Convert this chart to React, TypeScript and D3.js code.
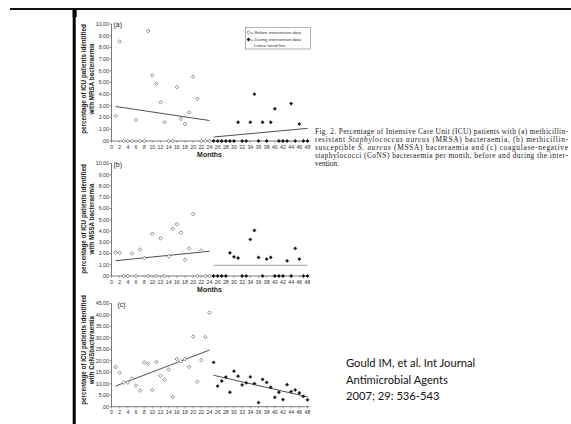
import React from 'react';
import * as d3 from 'd3';

// ---------- data ----------
const monthsBefore = [1, 2, 3, 4, 5, 6, 7, 8, 9, 10, 11, 12, 13, 14, 15, 16, 17, 18, 19, 20, 21, 22, 23, 24];
const monthsDuring = [25, 26, 27, 28, 29, 30, 31, 32, 33, 34, 35, 36, 37, 38, 39, 40, 41, 42, 43, 44, 45, 46, 47, 48];

const mrsaBefore = [2.15, 8.5, 0, 0, 0, 1.8, 0, 0, 9.4, 5.6, 4.9, 3.3, 1.6, 0, 0, 4.6, 1.9, 1.45, 2.45, 5.5, 3.6, 0, 0, 0];
const mrsaDuring = [0, 0, 0, 0, 0, 0, 1.6, 0, 0, 1.6, 4.0, 0, 1.6, 0, 1.6, 2.75, 0, 0, 0, 3.2, 0, 1.45, 0, 0];

const mssaBefore = [2.1, 2.05, 0, 0, 2.0, 0, 2.35, 1.6, 0, 3.75, 0, 3.35, 0, 1.75, 4.2, 4.6, 3.85, 1.45, 2.45, 5.5, 0, 2.25, 0, 0];
const mssaDuring = [0, 0, 0, 0, 2.05, 1.7, 1.6, 0, 0, 3.25, 4.05, 1.65, 0, 1.5, 1.65, 0, 0, 0, 1.35, 0, 2.45, 1.5, 0, 0];

const consBefore = [17.3, 14.8, 10.5, 10.5, 12.3, 9.2, 7.0, 19.3, 18.8, 7.3, 19.5, 13.5, 11.8, 16.2, 4.2, 20.8, 19.8, 20.8, 17.4, 30.6, 10.9, 20.3, 30.4, 41.0];
const consDuring = [19.3, 9.0, 11.2, 12.9, 6.3, 15.5, 13.3, 9.5, 10.4, 13.0, 10.1, 1.8, 11.9, 10.6, 8.5, 4.1, 6.3, 3.1, 9.6, 6.6, 7.3, 6.0, 4.5, 3.0];

// trend lines: [value at first month, value at last month]
const trendMonthsBefore = [1, 24];
const trendMonthsDuring = [25, 48];
const mrsaTrendBefore = [2.95, 1.75];
const mrsaTrendDuring = [0.34, 1.08];
const mssaTrendBefore = [1.36, 2.2];
const mssaTrendDuring = [0.95, 0.95];
const consTrendBefore = [9.0, 24.7];
const consTrendDuring = [13.7, 4.3];

const xTicks = [0, 2, 4, 6, 8, 10, 12, 14, 16, 18, 20, 22, 24, 26, 28, 30, 32, 34, 36, 38, 40, 42, 44, 46, 48];
const yTicksSmall = [0, 1, 2, 3, 4, 5, 6, 7, 8, 9, 10];
const yTicksLarge = [0, 5, 10, 15, 20, 25, 30, 35, 40, 45];

const yTitleLine1 = 'percentage of ICU patients identified';
const yTitleLine2 = ['with MRSA bacteraemia', 'with MSSA bacteraemia', 'with CoNSbacteraemia'];
const panelLabels = ['(a)', '(b)', '(c)'];
const xTitle = 'Months';
const legendLabels = ['= Before intervention data', '= During intervention data', 'Linear trend line'];

// caption lines as [text, italic] segments
const captionLines: [string, boolean][][] = [
  [['Fig. 2. Percentage of Intensive Care Unit (ICU) patients with (a) methicillin-', false]],
  [['resistant ', false], ['Staphylococcus aureus', true], [' (MRSA) bacteraemia, (b) methicillin-', false]],
  [['susceptible ', false], ['S. aureus', true], [' (MSSA) bacteraemia and (c) coagulase-negative', false]],
  [['staphylococci (CoNS) bacteraemia per month, before and during the inter-', false]],
  [['vention.', false]],
];
const citationLines = ['Gould IM, et al. Int Journal', 'Antimicrobial Agents', '2007; 29: 536-543'];

// ---------- layout ----------
const X0 = 111.5;
const X1 = 307.5;
const panels = [
  { top: 24, bottom: 141, max: 10, ticks: yTicksSmall, before: mrsaBefore, during: mrsaDuring, tb: mrsaTrendBefore, td: mrsaTrendDuring, tdColor: '#222', months: true, title2: yTitleLine2[0], titleY: 79, label: panelLabels[0], labelDx: 2 },
  { top: 163.5, bottom: 276, max: 10, ticks: yTicksSmall, before: mssaBefore, during: mssaDuring, tb: mssaTrendBefore, td: mssaTrendDuring, tdColor: '#888', months: true, title2: yTitleLine2[1], titleY: 219, label: panelLabels[1], labelDx: 2 },
  { top: 303.5, bottom: 406.7, max: 45, ticks: yTicksLarge, before: consBefore, during: consDuring, tb: consTrendBefore, td: consTrendDuring, tdColor: '#222', months: false, title2: yTitleLine2[2], titleY: 350, label: panelLabels[2], labelDx: 6 },
];

const x = d3.scaleLinear().domain([0, 48]).range([X0, X1]);
const sansFont = 'Liberation Sans, Arial, sans-serif';

function Diamond({ cx, cy, filled }: { cx: number; cy: number; filled: boolean }) {
  const p = d3.symbol(d3.symbolSquare, filled ? 5.5 : 6.5)() as string;
  return (
    <path
      d={p}
      transform={`translate(${cx},${cy}) rotate(45)`}
      fill={filled ? '#111' : '#fff'}
      stroke={filled ? '#111' : '#666'}
      strokeWidth={filled ? 0.4 : 0.7}
    />
  );
}

function Panel({ p }: { p: (typeof panels)[number] }) {
  const y = d3.scaleLinear().domain([0, p.max]).range([p.bottom, p.top]);
  const line = d3.line<[number, number]>().x((d) => x(d[0])).y((d) => y(d[1]));
  const fmt = (v: number) => (v === 0 ? '.00' : v.toFixed(2));
  return (
    <g>
      <line x1={X0} x2={X0} y1={p.top} y2={p.bottom} stroke="#444" strokeWidth={0.7} />
      <line x1={X0} x2={X1 + 2} y1={p.bottom} y2={p.bottom} stroke="#444" strokeWidth={0.7} />
      {p.ticks.map((t) => (
        <g key={t}>
          <line x1={X0 - 2} x2={X0} y1={y(t)} y2={y(t)} stroke="#444" strokeWidth={0.6} />
          <text x={X0 - 2.5} y={y(t)} dy="0.35em" textAnchor="end" fontSize={5.3} fill="#333" fontFamily={sansFont}>
            {fmt(t)}
          </text>
        </g>
      ))}
      {xTicks.map((t) => (
        <g key={t}>
          <line x1={x(t)} x2={x(t)} y1={p.bottom} y2={p.bottom + 1.8} stroke="#444" strokeWidth={0.5} />
          <text x={x(t)} y={p.bottom + 7.5} textAnchor="middle" fontSize={5.2} fill="#333" fontFamily={sansFont}>
            {t}
          </text>
        </g>
      ))}
      {p.months && (
        <text x={x(24)} y={p.bottom + 15.5} textAnchor="middle" fontSize={7} fontWeight="bold" fill="#222" fontFamily={sansFont}>
          {xTitle}
        </text>
      )}
      <text transform={`translate(85.5,${p.titleY}) rotate(-90)`} textAnchor="middle" fontSize={6.3} fontWeight="bold" fill="#222" fontFamily={sansFont}>
        {yTitleLine1}
      </text>
      <text transform={`translate(94.2,${p.titleY}) rotate(-90)`} textAnchor="middle" fontSize={6.3} fontWeight="bold" fill="#222" fontFamily={sansFont}>
        {p.title2}
      </text>
      <text x={X0 + p.labelDx} y={p.top + 3} fontSize={7} fill="#222" fontFamily={sansFont}>
        {p.label}
      </text>
      <path d={line([[trendMonthsBefore[0], p.tb[0]], [trendMonthsBefore[1], p.tb[1]]]) as string} stroke="#222" strokeWidth={0.8} fill="none" />
      <path d={line([[trendMonthsDuring[0], p.td[0]], [trendMonthsDuring[1], p.td[1]]]) as string} stroke={p.tdColor} strokeWidth={0.8} fill="none" />
      {p.before.map((v, i) => (
        <Diamond key={'b' + i} cx={x(monthsBefore[i])} cy={y(v)} filled={false} />
      ))}
      {p.during.map((v, i) => (
        <Diamond key={'d' + i} cx={x(monthsDuring[i])} cy={y(v)} filled={true} />
      ))}
    </g>
  );
}

export default function App() {
  return (
    <svg width={571} height={424} style={{ position: 'absolute', left: 0, top: 0, background: '#fff' }}>
      <rect x={0} y={0} width={571} height={424} fill="#fff" />
      <line x1={10} x2={571} y1={9} y2={9} stroke="#111" strokeWidth={1.8} />
      <rect x={72.7} y={9} width={4} height={8} fill="#000" />
      <rect x={72.7} y={9} width={3} height={415} fill="#000" />

      {panels.map((p, i) => (
        <Panel key={i} p={p} />
      ))}

      <g fontFamily={sansFont} fontSize={4.4} fill="#333">
        <rect x={245.7} y={27.7} width={65} height={21.3} fill="#fff" stroke="#666" strokeWidth={0.5} />
        <Diamond cx={248.5} cy={32.5} filled={false} />
        <text x={250.8} y={34}>{legendLabels[0]}</text>
        <Diamond cx={248.5} cy={39.5} filled={true} />
        <text x={250.8} y={41}>{legendLabels[1]}</text>
        <text x={254} y={47}>{legendLabels[2]}</text>
      </g>

      <g fontFamily="Liberation Serif, Times New Roman, serif" fontSize={7.4} fill="#222">
        {captionLines.map((segs, i) => (
          <text
            key={i}
            x={315}
            y={134 + i * 7.9}
            textLength={i < captionLines.length - 1 ? 253 : undefined}
            lengthAdjust="spacing"
          >
            {segs.map(([s, it], j) => (
              <tspan key={j} fontStyle={it ? 'italic' : 'normal'}>
                {s}
              </tspan>
            ))}
          </text>
        ))}
      </g>

      <g fontFamily="Lato, Open Sans, sans-serif" fontSize={11.2} fill="#111">
        {citationLines.map((l, i) => (
          <text key={i} x={346} y={367 + i * 16.7}>
            {l}
          </text>
        ))}
      </g>
    </svg>
  );
}
